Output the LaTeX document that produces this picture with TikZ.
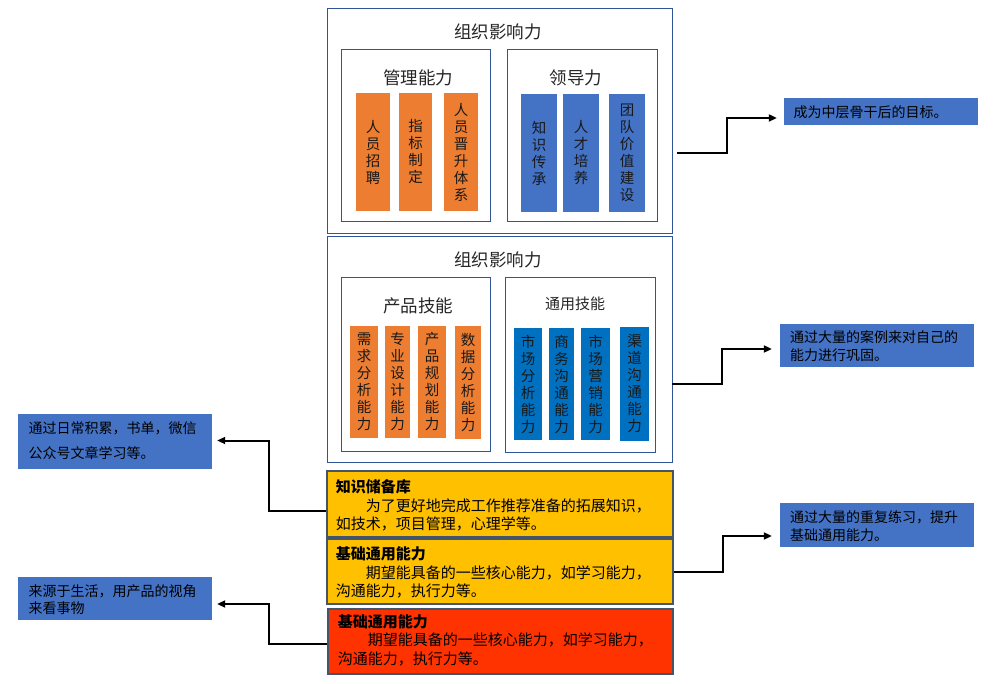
\documentclass[tikz,border=0pt]{standalone}
\usepackage{fontspec}
\setmainfont{Noto Sans CJK SC}
\usetikzlibrary{arrows.meta,calc}
\definecolor{orng}{HTML}{ED7D31}
\definecolor{blu}{HTML}{4472C4}
\definecolor{dblu}{HTML}{0070C0}
\definecolor{pnl}{HTML}{2F5597}
\definecolor{ylw}{HTML}{FFC000}
\definecolor{rd}{HTML}{FF3300}
\definecolor{slate}{HTML}{44546A}
\begin{document}
\begin{tikzpicture}[x=1pt,y=-1pt,
  panel/.style={draw=pnl,line width=0.9pt,fill=white,inner sep=0pt},
  obar/.style={fill=orng,inner sep=0pt,align=center,text=black!90,font=\fontsize{14.5}{17}\selectfont},
  bbar/.style={fill=blu,inner sep=0pt,align=center,text=black!90,font=\fontsize{14.5}{17}\selectfont},
  dbar/.style={fill=dblu,inner sep=0pt,align=center,text=black!90,font=\fontsize{14.5}{17}\selectfont},
  bigtitle/.style={inner sep=0pt,text=black!85,font=\fontsize{17.5}{20}\selectfont},
  smalltitle/.style={inner sep=0pt,text=black!85,font=\fontsize{15}{18}\selectfont},
  stripe/.style={draw=slate,line width=1.5pt,inner sep=0pt,minimum width=346pt,minimum height=65pt},
  stripetext/.style={inner sep=0pt,anchor=west,align=left,text=black,font=\fontsize{15}{18.5}\selectfont},
  note/.style={fill=blu,inner sep=0pt,minimum width=194pt},
  notetext/.style={inner sep=0pt,anchor=west,align=left,text=black,font=\fontsize{14}{17.6}\selectfont},
  arr/.style={line width=2pt,black,-{Triangle[length=8pt,width=7pt]}}]
\useasboundingbox (0,0) rectangle (996,684);

% ---------- top panel ----------
\node[panel,minimum width=345pt,minimum height=225pt] (top) at (499.5,120.5) {};
\node[bigtitle] (toptitle) at (498,32) {组织影响力};
\node[panel,minimum width=149pt,minimum height=172pt] (mgmt) at (415.5,135) {};
\node[panel,minimum width=150pt,minimum height=172pt] (lead) at (582,135) {};
\node[bigtitle] (mgmtt) at (418,78) {管理能力};
\node[bigtitle] (leadt) at (576,78) {领导力};
\node[obar,minimum width=34pt,minimum height=118pt] (o1) at (373,152) {人\\员\\招\\聘};
\node[obar,minimum width=33pt,minimum height=118pt] (o2) at (415.5,152) {指\\标\\制\\定};
\node[obar,minimum width=34pt,minimum height=118pt] (o3) at (461,152) {人\\员\\晋\\升\\体\\系};
\node[bbar,minimum width=36pt,minimum height=118pt] (b1) at (539,153) {知\\识\\传\\承};
\node[bbar,minimum width=36pt,minimum height=118pt] (b2) at (581,153) {人\\才\\培\\养};
\node[bbar,minimum width=36pt,minimum height=118pt] (b3) at (627,153) {团\\队\\价\\值\\建\\设};

% ---------- middle panel ----------
\node[panel,minimum width=345pt,minimum height=226pt] (mid) at (499.5,349) {};
\node[bigtitle] (midtitle) at (498,260) {组织影响力};
\node[panel,minimum width=149.5pt,minimum height=174pt] (prod) at (415.75,364) {};
\node[panel,minimum width=149.5pt,minimum height=175pt] (gen) at (580.25,364.5) {};
\node[bigtitle] (prodt) at (418,306) {产品技能};
\node[smalltitle] (gent) at (575,304) {通用技能};
\node[obar,minimum width=28pt,minimum height=111.5pt] (p1) at (364,382) {需\\求\\分\\析\\能\\力};
\node[obar,minimum width=25pt,minimum height=111.5pt] (p2) at (397.5,382) {专\\业\\设\\计\\能\\力};
\node[obar,minimum width=28pt,minimum height=111.5pt] (p3) at (432,382) {产\\品\\规\\划\\能\\力};
\node[obar,minimum width=26pt,minimum height=113pt] (p4) at (468,382.5) {数\\据\\分\\析\\能\\力};
\node[dbar,minimum width=28pt,minimum height=112.5pt] (g1) at (528,384) {市\\场\\分\\析\\能\\力};
\node[dbar,minimum width=25pt,minimum height=112.5pt] (g2) at (561.5,384) {商\\务\\沟\\通\\能\\力};
\node[dbar,minimum width=29pt,minimum height=112.5pt] (g3) at (595.5,384) {市\\场\\营\\销\\能\\力};
\node[dbar,minimum width=29pt,minimum height=113.5pt] (g4) at (634.5,384) {渠\\道\\沟\\通\\能\\力};

% ---------- bottom stripes ----------
\node[stripe,fill=ylw,minimum height=66pt] (s1) at (500,504) {};
\node[stripetext] (s1t) at (335.7,505.5) {\textbf{知识储备库}\\\hspace*{30pt}为了更好地完成工作推荐准备的拓展知识，\\如技术，项目管理，心理学等。};
\node[stripe,fill=ylw] (s2) at (500,571.5) {};
\node[stripetext] (s2t) at (335.7,572.7) {\textbf{基础通用能力}\\\hspace*{30pt}期望能具备的一些核心能力，如学习能力，\\沟通能力，执行力等。};
\node[stripe,fill=rd,minimum width=345pt] (s3) at (500.5,641.5) {};
\node[stripetext] (s3t) at (337.7,640) {\textbf{基础通用能力}\\\hspace*{30pt}期望能具备的一些核心能力，如学习能力，\\沟通能力，执行力等。};

% ---------- notes ----------
\node[note,minimum height=55pt] (l1) at (115,441.5) {};
\node[notetext,font=\fontsize{14}{25}\selectfont] (l1t) at (28.3,440.8) {通过日常积累，书单，微信\\公众号文章学习等。};
\node[note,minimum height=43pt] (l2) at (115,598.5) {};
\node[notetext] (l2t) at (28.3,599.5) {来源于生活，用产品的视角\\来看事物};
\node[note,minimum height=27pt] (n1) at (881,111.5) {};
\node[notetext] (n1t) at (793.3,112.2) {成为中层骨干后的目标。};
\node[note,minimum height=43pt] (n2) at (877,345.5) {};
\node[notetext] (n2t) at (790,346.2) {通过大量的案例来对自己的\\能力进行巩固。};
\node[note,minimum height=44pt] (n3) at (877,525) {};
\node[notetext] (n3t) at (790,526.2) {通过大量的重复练习，提升\\基础通用能力。};

% ---------- connectors ----------
\draw[arr] ($(top.east)+(5,32.5)$) -- ++(50,0) |- ($(n1.west)+(-7,6.5)$);
\draw[arr] ($(mid.east)+(0,35)$) -- ++(50,0) |- ($(n2.west)+(-8,3.5)$);
\draw[arr] (s2.east) -- ++(49,0) |- ($(n3.west)+(-8,11)$);
\draw[arr] ($(s1.west)+(0,7)$) -- ++(-57,0) |- ($(l1.east)+(5,-1)$);
\draw[arr] ($(s3.west)+(0,2)$) -- ++(-58,0) |- ($(l2.east)+(5,5.5)$);
\end{tikzpicture}
\end{document}
